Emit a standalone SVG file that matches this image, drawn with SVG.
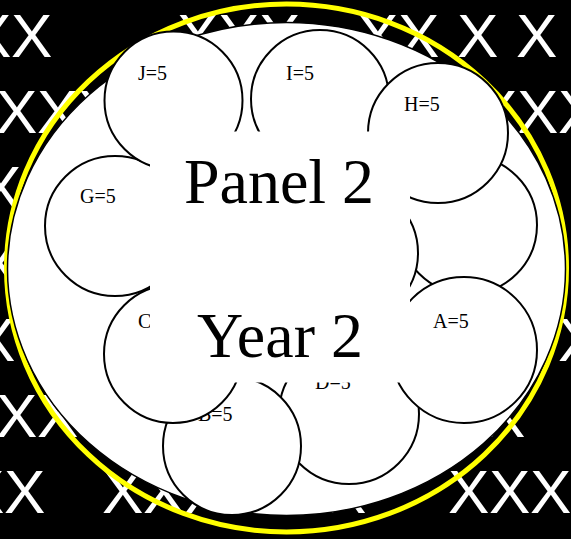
<svg xmlns="http://www.w3.org/2000/svg" width="571" height="539" viewBox="0 0 571 539">
<style>
.bgx{font-family:"Liberation Sans",Arial,sans-serif;font-size:62px;fill:#fff}
.node{fill:#fff;stroke:#000;stroke-width:2}
.lbl{font-family:"Liberation Serif","Times New Roman",serif;font-size:20px;fill:#000}
.big{font-family:"Liberation Serif","Times New Roman",serif;font-size:64px;fill:#000;text-anchor:middle}
</style>
<rect x="0" y="0" width="571" height="539" fill="#000"/>
<g id="background-x">
<text class="bgx" x="-30 11 177 218 259 357 398 457 516" y="57">XXXXXXXXX</text>
<text class="bgx" x="-4 37 78 476 517 558" y="133">XXXXXX</text>
<text class="bgx" x="-20" y="209">X</text>
<text class="bgx" x="-22" y="285">X</text>
<text class="bgx" x="-26 558" y="361">XX</text>
<text class="bgx" x="-4 37 484" y="437">XXX</text>
<text class="bgx" x="-37 4 102 143 184 325 448 489 530" y="513">XXXXXXXXX</text>
</g>
<ellipse id="outer-ring" cx="286.5" cy="268" rx="280" ry="264" fill="none" stroke="#ff0" stroke-width="5"/>
<ellipse id="panel" cx="286.5" cy="269" rx="279" ry="246.5" fill="#fff" stroke="#000" stroke-width="1.5"/>
<g id="connectors"></g>
<g id="node-F"><circle class="node" cx="468" cy="225" r="69"/></g>
<g id="node-E"><circle class="node" cx="349" cy="253" r="69"/></g>
<g id="node-D"><circle class="node" cx="349" cy="414" r="70"/><text class="lbl" x="315" y="389">D=5</text></g>
<g id="node-B"><circle class="node" cx="232" cy="446" r="69"/><text class="lbl" x="198" y="421">B=5</text></g>
<g id="node-C"><circle class="node" cx="173" cy="354" r="69"/><text class="lbl" x="138" y="328">C=5</text></g>
<g id="node-G"><circle class="node" cx="115" cy="226" r="70"/><text class="lbl" x="80" y="203">G=5</text></g>
<g id="node-J"><circle class="node" cx="173.5" cy="100.5" r="69"/><text class="lbl" x="138" y="80">J=5</text></g>
<g id="node-I"><circle class="node" cx="320" cy="99" r="69"/><text class="lbl" x="286" y="80">I=5</text></g>
<g id="node-H"><circle class="node" cx="438" cy="133" r="70"/><text class="lbl" x="404" y="111">H=5</text></g>
<g id="node-A"><circle class="node" cx="464" cy="350" r="73"/><text class="lbl" x="433" y="328">A=5</text></g>
<g id="title">
<rect x="150" y="131.5" width="260" height="251" fill="#fff"/>
<text class="big" x="279" y="203">Panel 2</text>
<text class="big" x="280" y="357">Year 2</text>
</g>
</svg>
